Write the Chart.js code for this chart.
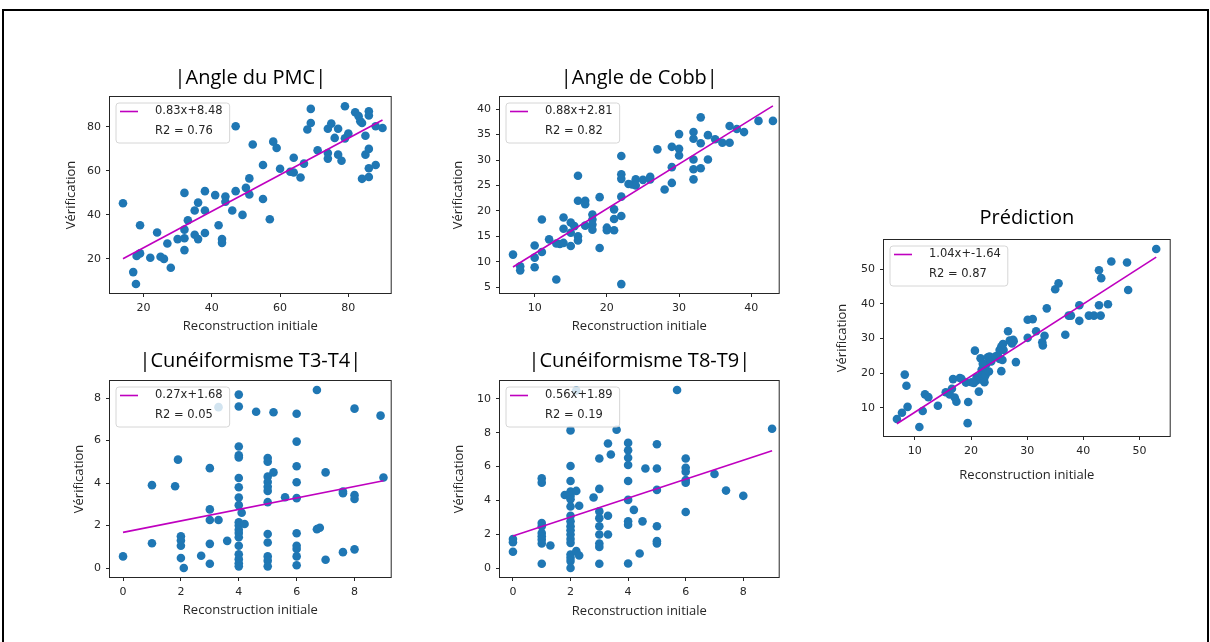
<!DOCTYPE html>
<html>
<head>
<meta charset="utf-8">
<script src="https://cdn.jsdelivr.net/npm/chart.js@4.4.1/dist/chart.umd.min.js"></script>
<style>
  html, body { margin: 0; padding: 0; background: #fff; width: 1210px; height: 642px; overflow: hidden; }
  #frame { position: absolute; left: 2px; top: 9px; width: 1207px; height: 720px; border: 2px solid #000; box-sizing: border-box; }
  canvas { position: absolute; }
</style>
</head>
<body>
<div id="frame"></div>
<script>
// ---- Angle du PMC ----
const pmcInit = [14,17,17.8,18,19,19,22,24,25,26, 27,28,30,32,32,32,32,33,35,36, 35,36,38,38,38,41,42,43,43,44,
  44,46,47,47,49,50,51,51,52,55, 55,57,58,59,60,63,64,64,66,67, 68,69,69,71,74,75,74,74,76,77,
  77,78,79,79,80,82,83,83.5,84,84, 85,85,86,86,86,86,86,88,88,90];
const pmcVerif = [45.3,14,8.6,21.3,22.5,35.3,20.5,32,21,20, 27,16,29,50,33.3,29.4,24,37.6,31,29, 42,45.6,50.8,42,31.8,49,35.3,29,27.3,48.4,
  46,42,80.3,50.8,40,52.3,56.6,49.3,72,62.7, 47.2,38,73.3,70.4,61,59.6,66,59.3,57,63.3, 78.8,88.2,81.8,69.4,79.2,81.5,68.1,65.6,75,79.2,
  67.4,64.6,89.4,74.8,77,86.7,84.9,82.6,81.8,56.4, 76,67.4,70,61.2,57.2,87.1,85.2,80.3,62.7,79.5];

// ---- Angle de Cobb ----
const cobbInit = [7,8,8,10,10,10,11,11,12,13, 13,13.5,14,14,14,15,15.5,15,15,16, 16,16,16,17,17,17,18,18,18,18,
  19,19,20,20,21,21,21,22,22,22, 22,22,22,23,23.5,24,24,25,26,26, 27,28,29,29,29,30,30,30,32,32,
  32,32,32,33,33,33,34,34,35,36, 37,37,38,39,41,43];
const cobbVerif = [11.4,9.1,8.3,13.2,10.8,8.9,18.3,11.9,14.4,6.5, 13.6,13.5,18.7,16.5,13.7,17.7,17,15.7,13.1,26.9, 22,15,14.2,22,21.3,17.1,19.3,18.3,17.3,16.3,
  22.7,12.7,16.7,16.2,20.3,18.4,16.2,30.8,27.2,26.3, 22.8,19,5.6,25.3,25.2,26.2,25,26.1,26.7,26.2, 32.1,24.2,32.6,28.6,25.5,35.1,32.2,30.9,35.5,34.2,
  30.1,28.2,26.2,38.4,33.3,28.4,34.9,30.1,34.1,33.4, 36.7,33.4,36.1,35.5,37.7,37.7];

// ---- Cunéiformisme T3-T4 ----
const t34Init = [0,1,1,1.8,1.9,2,2,2,2,2.1, 2.7,3,3,3,3,3,3.3,3.3,3.6,4, 4,4,4,4,4,4,4,4,4.1,4,
  4,4,4,4,4.2,4,4,4,4,4, 4.6,5,5,5,5,5,5,5.2,5,5, 5,5,5,5,5.2,5.6,6,6,6,6,
  6,6,6,6,6,6,6.7,6.7,6.8,7, 7,7.6,7.6,7.6,8,8,8,8,8.9,9];
const t34Verif = [0.55,3.9,1.17,3.85,5.1,1.5,1.3,1.05,0.47,0, 0.58,4.7,2.76,2.26,1.14,0.2,2.26,7.57,1.28,8.16, 7.6,5.72,5.3,5.2,4.24,3.8,3.32,2.96,2.6,2.15,
  2.0,1.8,1.65,1.45,2.07,1.05,0.65,0.42,0.23,0.08, 7.35,5.18,5.0,4.3,4.05,3.82,3.63,4.5,3.1,1.6, 1.2,0.55,0.35,0.08,7.33,3.33,7.26,5.95,4.79,4.04,
  3.29,1.64,1.05,0.9,0.55,0.13,8.38,1.83,1.9,4.5, 0.39,3.6,3.52,0.75,7.5,3.43,3.25,0.88,7.17,4.26];

// ---- Cunéiformisme T8-T9 ----
const t89Init = [0,0,0,1,1,1,1,1,1,1, 1,1,1.3,1.8,2,2,2,2,2,2, 2.2,2,2.3,2,2,2,2,2,2,2,
  2,2,2,2,2.2,2.3,2.2,2.8,3,3, 3,3,3,3,3,3,3,3.3,3.3,3.3, 3.4,3.6,4,4,4,4,4,4,4,4,
  4,4.2,4.4,4.5,4.6,5,5,5,5,5, 5,5.7,6,6,6,6,6,6,7,7.4, 8,9];
const t89Verif = [1.72,1.53,0.96,5.3,5.05,2.66,2.47,2.07,1.88,1.68, 1.45,0.25,1.33,4.32,8.14,6.03,5.15,4.52,4.27,4.07, 4.56,3.64,3.68,3.09,2.76,2.47,2.23,1.98,1.72,1.49,
  0.8,0.61,0.41,0,1.0,0.74,10.5,4.17,6.48,4.68, 3.35,2.95,2.47,1.98,1.45,1.25,0.25,7.36,3.09,1.98, 6.71,8.18,7.4,6.97,6.52,6.09,5.15,4.03,2.76,2.56,
  0.27,3.44,0.86,2.76,5.89,7.32,5.89,4.62,2.47,1.59, 1.45,10.53,6.48,5.93,5.69,5.2,5.05,3.31,5.56,4.58, 4.27,8.24];

// ---- Prédiction ----
const predInit = [6.8,7.7,8.2,8.5,8.7,10.8,11.4,11.8,12.4,14.1, 15.5,16.2,16.6,16.8,17.1,17.4,18,18.3,19.1,19.5,
  19.4,20.1,20.7,21,21,21.4,21.7,21.9,22.2,21.9, 22.3,22.4,22.4,22.7,22.1,23,23.3,23.6,24.8,25.1,
  25.4,25.1,25.6,25.4,25.8,25.7,26.6,26.9,27.3,27.5, 28,27.6,30.1,30.1,31,31.6,33.1,32.7,32.8,33.5,
  35,35.6,36.8,37.4,37.8,39.3,39.3,41,41.9,43.1, 42.8,42.8,43.2,44.4,45,47.8,48,53, 22.6,23.2,24.4,20.5];
const predVerif = [6.8,8.6,19.6,16.4,10.3,4.5,9.1,13.9,13.1,10.6, 14.5,13.9,15.5,18.3,13,11.8,18.6,18.4,17.3,11.7,
  5.6,17.4,26.5,18.8,17.9,14.7,24.3,19.8,17.9,21, 21.5,18.8,17.4,22.5,22.7,24.6,24.8,23.4,25.1,26.7,
  27.7,24.1,23.8,20.6,26.7,28.4,32.1,29.4,28.6,29.6, 23.2,29.2,30.2,35.4,35.6,32.1,30.8,28.9,28,38.7,
  44.2,45.9,31.1,36.6,36.6,39.6,35.1,36.6,36.6,36.6, 39.6,49.7,47.4,39.9,52.2,51.9,44,55.8, 19.5,20.5,24.9,17.2];

// ---- Titles, fitted lines and tick labels ----
const panelTitles = ['|Angle du PMC|', '|Angle de Cobb|', '|Cunéiformisme T3-T4|', '|Cunéiformisme T8-T9|', 'Prédiction'];
const fitSlopes = [0.83, 0.88, 0.27, 0.56, 1.04];
const fitIntercepts = [8.48, 2.81, 1.68, 1.89, -1.64];
const fitR2 = [0.76, 0.82, 0.05, 0.19, 0.87];
const pmcTicks = [20, 40, 60, 80];
const cobbTicksX = [10, 20, 30, 40];
const cobbTicksY = [5, 10, 15, 20, 25, 30, 35, 40];
const cuneTicksX = [0, 2, 4, 6, 8];
const t34TicksY = [0, 2, 4, 6, 8];
const t89TicksY = [0, 2, 4, 6, 8, 10];
const predTicks = [10, 20, 30, 40, 50];
const xAxisLabel = 'Reconstruction initiale';
const yAxisLabel = 'Vérification';

// ---- Styling ----
const pointColor = '#1f77b4';
const fitColor = '#bf00bf';
const inkColor = '#262626';
const titleFont = { family: '"Open Sans", sans-serif', size: 20, weight: 'normal' };
const axisTitleFont = { family: '"Open Sans", sans-serif', size: 13, weight: 'normal' };
const tickFont = { family: '"DejaVu Sans", sans-serif', size: 11 };
const legendFont = '11.5px "DejaVu Sans", sans-serif';

// Full box around the plotting area
const axesBox = {
  id: 'axesBox',
  afterDatasetsDraw(chart) {
    const { ctx, chartArea: a } = chart;
    ctx.save();
    ctx.strokeStyle = inkColor;
    ctx.lineWidth = 1;
    ctx.strokeRect(a.left - 0.5, a.top - 0.5, a.right - a.left + 1, a.bottom - a.top + 1);
    ctx.restore();
  }
};

// Legend box in the upper-left corner of each plot
const fitLegend = {
  id: 'fitLegend',
  afterDatasetsDraw(chart, args, opts) {
    const { ctx, chartArea: a } = chart;
    const lines = opts.lines || [];
    ctx.save();
    ctx.font = legendFont;
    const tw = Math.max(...lines.map(t => ctx.measureText(t).width));
    const x = a.left + 6, y = a.top + 6;
    const w = 39 + tw + 7, h = 40, r = 3;
    ctx.beginPath();
    ctx.moveTo(x + r, y);
    ctx.arcTo(x + w, y, x + w, y + h, r);
    ctx.arcTo(x + w, y + h, x, y + h, r);
    ctx.arcTo(x, y + h, x, y, r);
    ctx.arcTo(x, y, x + w, y, r);
    ctx.closePath();
    ctx.fillStyle = 'rgba(255,255,255,0.8)';
    ctx.fill();
    ctx.strokeStyle = '#d6d6d6';
    ctx.lineWidth = 1;
    ctx.stroke();
    ctx.strokeStyle = fitColor;
    ctx.lineWidth = 1.6;
    ctx.beginPath();
    ctx.moveTo(x + 4, y + 8.5);
    ctx.lineTo(x + 22, y + 8.5);
    ctx.stroke();
    ctx.fillStyle = inkColor;
    ctx.textBaseline = 'middle';
    ctx.textAlign = 'left';
    lines.forEach((t, i) => ctx.fillText(t, x + 39, y + 8.5 + 20 * i));
    ctx.restore();
  }
};

function fmt(v) { return v.toFixed(2); }

function makePanel(p) {
  const cw = p.w + 62, ch = p.h + 100;
  const cv = document.createElement('canvas');
  cv.width = cw; cv.height = ch;
  cv.style.width = cw + 'px'; cv.style.height = ch + 'px';
  cv.style.left = (p.left - 60) + 'px';
  cv.style.top = (p.top - 50) + 'px';
  document.body.appendChild(cv);

  const slope = fitSlopes[p.i], intercept = fitIntercepts[p.i];
  const pts = p.xs.map((x, k) => ({ x, y: p.ys[k] }));
  const xLo = Math.min(...p.xs), xHi = Math.max(...p.xs);
  const fitPts = [xLo, xHi].map(x => ({ x, y: slope * x + intercept }));

  const gridOpts = { display: true, drawOnChartArea: false, drawTicks: true, tickLength: 4, color: inkColor, lineWidth: 1 };

  new Chart(cv, {
    type: 'scatter',
    data: {
      datasets: [
        { data: fitPts, showLine: true, borderColor: fitColor, borderWidth: 1.6, pointRadius: 0, order: 0 },
        { data: pts, backgroundColor: pointColor, borderWidth: 0, pointRadius: 4.3, pointHoverRadius: 4.3, order: 1 }
      ]
    },
    options: {
      responsive: false,
      animation: false,
      devicePixelRatio: 1,
      events: [],
      layout: { padding: { left: 0, right: 2, top: 0, bottom: 0 } },
      plugins: {
        legend: { display: false },
        tooltip: { enabled: false },
        title: {
          display: true, text: panelTitles[p.i], fullSize: false, font: titleFont, color: '#000',
          padding: { top: p.titlePad, bottom: 26 - p.titlePad }
        },
        fitLegend: { lines: [fmt(slope) + 'x+' + fmt(intercept), 'R2 = ' + fmt(fitR2[p.i])] }
      },
      scales: {
        x: {
          type: 'linear', min: p.xr[0], max: p.xr[1],
          afterBuildTicks: s => { s.ticks = p.xt.map(v => ({ value: v })); },
          afterFit: s => { s.height = 50; s.paddingLeft = 0; s.paddingRight = 0; },
          grid: gridOpts, border: { display: false },
          ticks: { font: tickFont, color: inkColor, padding: 5, maxRotation: 0, autoSkip: false },
          title: { display: true, text: xAxisLabel, font: axisTitleFont, color: inkColor, padding: { top: 0, bottom: p.xLabPad } }
        },
        y: {
          type: 'linear', min: p.yr[0], max: p.yr[1],
          afterBuildTicks: s => { s.ticks = p.yt.map(v => ({ value: v })); },
          afterFit: s => { s.width = 60; s.paddingTop = 0; s.paddingBottom = 0; },
          grid: gridOpts, border: { display: false },
          ticks: { font: tickFont, color: inkColor, padding: 5, autoSkip: false },
          title: { display: true, text: yAxisLabel, font: axisTitleFont, color: inkColor, padding: { top: p.yLabPad, bottom: 0 } }
        }
      }
    },
    plugins: [axesBox, fitLegend]
  });
}

function build() {
  makePanel({ i: 0, xs: pmcInit, ys: pmcVerif, left: 110, top: 97, w: 283, h: 196,
    xr: [10.2, 92.4], yr: [4.5, 93.6], xt: pmcTicks, yt: pmcTicks, titlePad: 19.3, xLabPad: 8.5, yLabPad: 13.2 });
  makePanel({ i: 1, xs: cobbInit, ys: cobbVerif, left: 500, top: 97, w: 281, h: 196,
    xr: [5.2, 43.8], yr: [3.85, 42.4], xt: cobbTicksX, yt: cobbTicksY, titlePad: 19, xLabPad: 8.5, yLabPad: 10.5 });
  makePanel({ i: 2, xs: t34Init, ys: t34Verif, left: 110, top: 381, w: 283, h: 196,
    xr: [-0.45, 9.25], yr: [-0.42, 8.8], xt: cuneTicksX, yt: t34TicksY, titlePad: 18.7, xLabPad: 8.5, yLabPad: 21.2 });
  makePanel({ i: 3, xs: t89Init, ys: t89Verif, left: 500, top: 381, w: 281, h: 196,
    xr: [-0.45, 9.23], yr: [-0.53, 11.06], xt: cuneTicksX, yt: t89TicksY, titlePad: 18.7, xLabPad: 7.5, yLabPad: 11 });
  makePanel({ i: 4, xs: predInit, ys: predVerif, left: 884, top: 240, w: 288, h: 196,
    xr: [4.5, 55.4], yr: [1.9, 58.4], xt: predTicks, yt: predTicks, titlePad: 16.3, xLabPad: 3.2, yLabPad: 10.4 });
}

Promise.all([
  document.fonts.load('20px "Open Sans"'),
  document.fonts.load('11px "DejaVu Sans"')
]).then(build, build);
</script>
</body>
</html>
